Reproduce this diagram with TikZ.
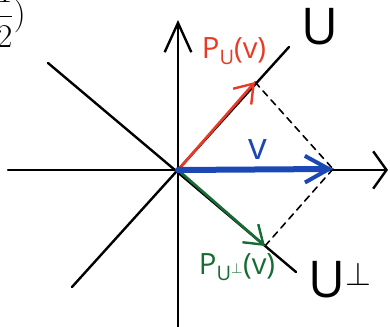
\documentclass[tikz,border=0pt]{standalone}
\usepackage{fontspec}
\setmainfont{Open Sans}
\usetikzlibrary{arrows.meta}
\definecolor{projred}{RGB}{232,58,38}
\definecolor{vecblue}{RGB}{28,72,182}
\definecolor{projgreen}{RGB}{22,108,52}
\newcommand{\lowidx}[1]{\raisebox{-0.4ex}{\fontsize{15}{17}\selectfont #1}}
\tikzset{
  axis/.style={line width=1.8pt, -{Straight Barb[length=10pt, width=28pt, line width=1.8pt]}},
  subspace/.style={line width=1.8pt},
  proj/.style={line width=2pt, -{Straight Barb[length=13pt, width=18pt, line width=1.8pt]}},
  drop/.style={line width=1.2pt, dashed, dash pattern=on 5pt off 4pt},
  label/.style={inner sep=0pt, font=\fontsize{22}{24}\selectfont}
}
\begin{document}
\begin{tikzpicture}[x=0.75pt, y=-0.75pt, line cap=round]
        \useasboundingbox (0,0) rectangle (390,327);
        \coordinate (O) at (178,170);
        \coordinate (xl) at (8,170);
        \coordinate (xr) at (388,170);
        \coordinate (yb) at (178,330);
        \coordinate (yt) at (178,20);
        \coordinate (ul) at (72,287);
        \coordinate (ur) at (289,47);
        \coordinate (wl) at (48,63);
        \coordinate (wr) at (296,272);
        \coordinate (pu) at (255,82);
        \coordinate (v) at (333,169);
        \coordinate (pw) at (265,246);
        % axes and the two subspaces
        \draw[axis] (xl)--(xr);
        \draw[axis, -{Straight Barb[length=22pt, width=20pt, line width=1.8pt]}] (yb)--(yt);
        \draw[subspace] (ul)--(ur);
        \draw[subspace] (wl)--(wr);
        % projections
        \draw[drop] (pu)--(v);
        \draw[drop] (v)--(pw);
        \draw[proj, projred] (O)--(pu);
        \draw[proj, projgreen] (O)--(pw);
        \draw[vecblue, line width=4.5pt, -{Straight Barb[length=18pt, width=20pt, line width=3pt]}] (O)--(v);
        % labels
        \node[label, text=projred] (lpu) at (234,51) {P\lowidx{U}(v)};
        \node[label, text=vecblue, font=\fontsize{28}{30}\selectfont] (lv) at (258,150) {v};
        \node[label, text=projgreen] (lpw) at (237,267) {P\lowidx{U$^\perp$}(v)};
        \node[label, font=\fontsize{38}{40}\selectfont] (lu) at (320,27) {U};
        \node[label, font=\fontsize{38}{40}\selectfont] (lw) at (340,280) {U$^\perp$};
        \node[label, anchor=east, font=\fontsize{28}{30}\selectfont] (frag) at (26,14) {$\displaystyle\frac{1}{2})$};
    \end{tikzpicture}
\end{document}
